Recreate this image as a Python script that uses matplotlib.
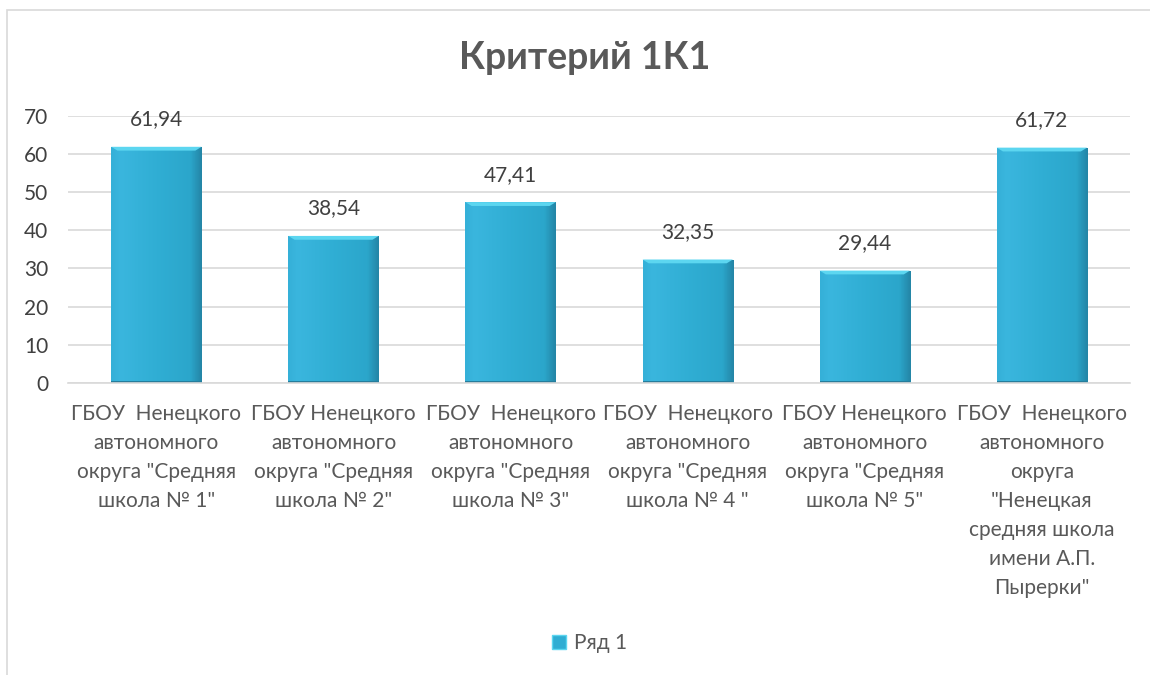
import matplotlib.pyplot as plt
import matplotlib.patches as mpatches
from matplotlib.colors import LinearSegmentedColormap
import numpy as np

categories = [
    'ГБОУ  Ненецкого\nавтономного\nокруга "Средняя\nшкола № 1"',
    'ГБОУ Ненецкого\nавтономного\nокруга "Средняя\nшкола № 2"',
    'ГБОУ  Ненецкого\nавтономного\nокруга "Средняя\nшкола № 3"',
    'ГБОУ  Ненецкого\nавтономного\nокруга "Средняя\nшкола № 4 "',
    'ГБОУ Ненецкого\nавтономного\nокруга "Средняя\nшкола № 5"',
    'ГБОУ  Ненецкого\nавтономного\nокруга\n"Ненецкая\nсредняя школа\nимени А.П.\nПырерки"',
]
values = [61.94, 38.54, 47.41, 32.35, 29.44, 61.72]
yticks = [0, 10, 20, 30, 40, 50, 60, 70]

plt.rcParams['font.family'] = ['Lato', 'DejaVu Sans']
txt = '#595959'
fs = 15

fig = plt.figure(figsize=(11.5, 6.75), dpi=100)
# outer chart border
fig.patches.append(mpatches.Rectangle((7 / 1150, -0.01), 1.2, 1 - 10 / 675 + 0.01,
                                      transform=fig.transFigure, fill=False,
                                      edgecolor='#d9d9d9', linewidth=1.2))

ax = fig.add_axes([0.059, 0.433, 0.924, 0.395])
x = np.arange(len(values))
bars = ax.bar(x, values, width=0.51, color='#2fadd3', zorder=2, label='Ряд 1')

# gradient + bevel on each bar
grad = np.linspace(0, 1, 64).reshape(1, -1)
cmap = LinearSegmentedColormap.from_list(
    'b', [(0, '#35b0d8'), (0.1, '#3ab6de'), (0.5, '#30aed4'), (0.88, '#2ba6cb'), (1, '#2486a7')])
for b in bars:
    x0, w, h = b.get_x(), b.get_width(), b.get_height()
    im = ax.imshow(grad, cmap=cmap, aspect='auto', extent=[x0, x0 + w, 0, h], zorder=2.1)
    im.set_clip_path(b)
    top = mpatches.Polygon([[x0, h], [x0 + w, h], [x0 + w - 0.035, h - 1.0], [x0 + 0.035, h - 1.0]],
                           closed=True, facecolor='#5cd6f0', edgecolor='none', zorder=2.2)
    ax.add_patch(top)
    bot = mpatches.Rectangle((x0, 0), w, 0.5, facecolor='#257d9c', edgecolor='none', zorder=2.2)
    ax.add_patch(bot)
    ax.text(x0 + w / 2, h + 4.6, f'{h:.2f}'.replace('.', ','), ha='center', va='bottom',
            fontsize=fs, color='#404040')

ax.set_xlim(-0.5, len(values) - 0.5)
ax.set_ylim(0, 70)
ax.set_yticks(yticks)
ax.set_xticks(x)
ax.set_xticklabels(categories, fontsize=fs, color=txt, linespacing=1.565)
ax.tick_params(axis='y', labelsize=fs, labelcolor='#404040', length=0, pad=14)
ax.tick_params(axis='x', length=0, pad=15)
ax.grid(axis='y', color='#d9d9d9', linewidth=1.2, zorder=0)
ax.set_axisbelow(True)
for s in ['top', 'right', 'left']:
    ax.spines[s].set_visible(False)
ax.spines['bottom'].set_color('#d9d9d9')
ax.spines['bottom'].set_linewidth(1.2)

fig.text(0.508, 0.914, 'Критерий 1К1', ha='center', va='center', fontsize=27,
         fontweight='bold', color='#595959')

handle = mpatches.Patch(facecolor='#2fadd3', edgecolor='#5cd6f0')
fig.legend([handle], ['Ряд 1'], loc='center', bbox_to_anchor=(0.513, 0.047), frameon=False,
           fontsize=fs, labelcolor=txt, handlelength=0.65, handleheight=0.65, handletextpad=0.4)

fig.savefig('out.png', dpi=100, facecolor='white')
